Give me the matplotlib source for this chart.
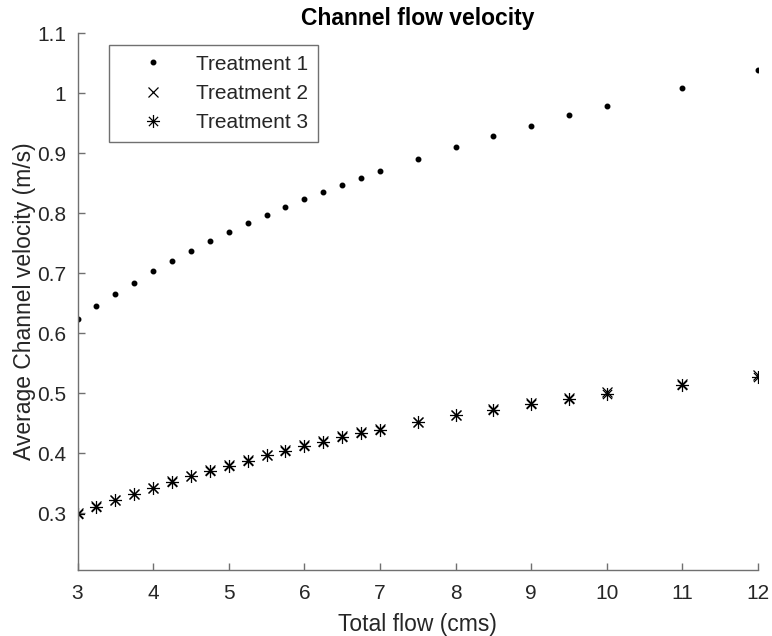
import matplotlib
matplotlib.use("Agg")
from matplotlib import pyplot as plt
from matplotlib.path import Path

plt.rcParams['font.family'] = ['Liberation Sans', 'DejaVu Sans']

# data
flow = [3, 3.25, 3.5, 3.75, 4, 4.25, 4.5, 4.75, 5, 5.25, 5.5, 5.75, 6,
        6.25, 6.5, 6.75, 7, 7.5, 8, 8.5, 9, 9.5, 10, 11, 12]
treat1 = [0.623, 0.645, 0.665, 0.684, 0.703, 0.720, 0.737, 0.753, 0.768,
          0.783, 0.797, 0.810, 0.823, 0.835, 0.847, 0.859, 0.870,
          0.890, 0.910, 0.929, 0.946, 0.963, 0.979, 1.009, 1.039]
treat2 = [0.300, 0.311, 0.322, 0.332, 0.342, 0.353, 0.362, 0.371, 0.380,
          0.388, 0.397, 0.405, 0.413, 0.420, 0.428, 0.435, 0.440,
          0.452, 0.464, 0.474, 0.484, 0.492, 0.501, 0.516, 0.530]
treat3 = [0.299, 0.310, 0.321, 0.331, 0.341, 0.352, 0.361, 0.370, 0.379,
          0.387, 0.396, 0.404, 0.412, 0.419, 0.427, 0.434, 0.439,
          0.451, 0.463, 0.472, 0.482, 0.490, 0.499, 0.514, 0.527]
labels = ['Treatment 1', 'Treatment 2', 'Treatment 3']

# matlab style asterisk: 8 spokes
d = 0.7071
star = Path([(0, -1), (0, 1), (-1, 0), (1, 0), (-d, -d), (d, d), (-d, d), (d, -d)],
            [Path.MOVETO, Path.LINETO] * 4)

txt = '#262626'
axc = '#707070'

fig = plt.figure(figsize=(7.72, 6.36), dpi=100)
ax = fig.add_axes([0.1004, 0.1038, 0.8816, 0.8438])

ax.plot(flow, treat1, linestyle='none', marker='.', ms=6.5, color='k', label=labels[0])
ax.plot(flow, treat2, linestyle='none', marker='x', ms=7.2, mew=0.9, color='k', label=labels[1])
ax.plot(flow, treat3, linestyle='none', marker=star, ms=9.4, mew=0.9, color='k',
        mfc='none', label=labels[2])

ax.set_xlim(3, 12)
ax.set_ylim(0.205, 1.1)
ax.set_xticks(range(3, 13))
ax.set_yticks([0.3, 0.4, 0.5, 0.6, 0.7, 0.8, 0.9, 1.0, 1.1])
ax.set_yticklabels(['0.3', '0.4', '0.5', '0.6', '0.7', '0.8', '0.9', '1', '1.1'])

for s in ['top', 'right']:
    ax.spines[s].set_visible(False)
for s in ['left', 'bottom']:
    ax.spines[s].set_color(axc)
    ax.spines[s].set_linewidth(1.0)
ax.tick_params(direction='in', length=5, width=1.0, color=axc, labelcolor=txt,
               labelsize=15)
ax.tick_params(axis='x', pad=10)
ax.tick_params(axis='y', pad=8)

ax.set_xlabel('Total flow (cms)', fontsize=16.5, color=txt, labelpad=7)
ax.set_ylabel('Average Channel velocity (m/s)', fontsize=16.5, color=txt, labelpad=1)
ax.set_title('Channel flow velocity', fontsize=16.5, fontweight='bold', color='k', pad=6)

leg = ax.legend(loc='upper left', bbox_to_anchor=(0.046, 0.978), borderaxespad=0,
                fancybox=False, framealpha=1, edgecolor=axc, fontsize=15,
                handlelength=3.3, handletextpad=0.45, borderpad=0.45,
                labelspacing=0.5, markerfirst=True)
leg.get_frame().set_linewidth(1.0)
for t in leg.get_texts():
    t.set_color(txt)

plt.savefig('out.png', dpi=100)
